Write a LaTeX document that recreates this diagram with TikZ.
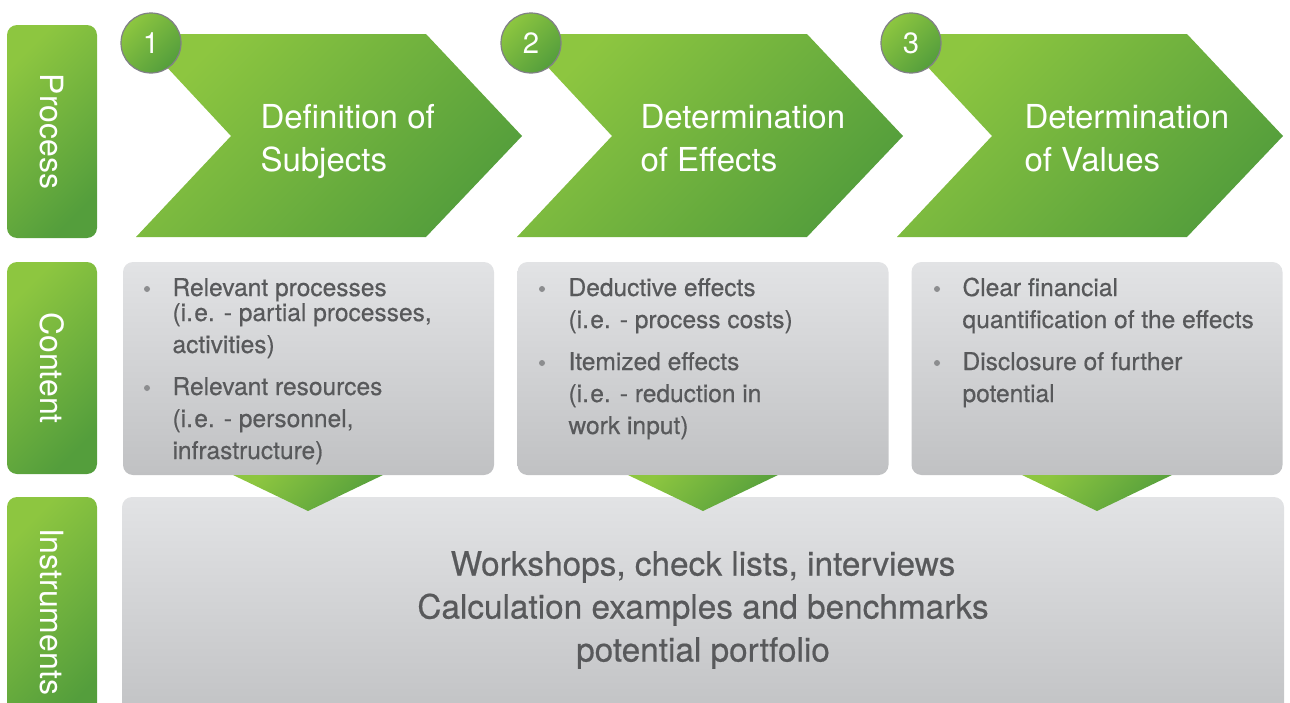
\documentclass[tikz,border=0pt]{standalone}
\usepackage{fontspec}
\usepackage{graphicx}
\setmainfont{TeX Gyre Heros}
\newfontfamily\grayfont[FakeBold=0.5]{TeX Gyre Heros}

\definecolor{greenL}{RGB}{141,198,64}
\definecolor{greenD}{RGB}{84,158,60}
\definecolor{grayT}{RGB}{226,227,229}
\definecolor{grayB}{RGB}{192,193,195}
\definecolor{textgray}{RGB}{88,89,91}
\definecolor{dotgray}{RGB}{140,141,143}
\definecolor{ringgray}{RGB}{128,128,134}

\tikzset{every picture/.style={line width=0.8pt}}
\tikzset{
  greenshade/.style={top color=greenL, bottom color=greenD, shading angle=45},
  grayshade/.style={top color=grayT, bottom color=grayB},
  sidebox/.style={greenshade, rounded corners=7.5pt, minimum width=67.5pt, inner sep=0pt, text=white, font=\fontsize{24}{28}\selectfont},
  graybox/.style={grayshade, rounded corners=7.5pt, inner sep=0pt},
  numdot/.style={circle, greenshade, draw=ringgray, line width=0.9pt, minimum size=45pt, inner sep=0pt, text=white, font=\fontsize{22}{24}\selectfont},
  steptitle/.style={anchor=base west, align=left, text=white, inner sep=0pt, font=\fontsize{24.75}{32.25}\selectfont},
  itemtext/.style={anchor=base west, align=left, text=textgray, inner sep=0pt, font=\grayfont\fontsize{18.4}{24}\selectfont},
  itemdot/.style={circle, fill=dotgray, inner sep=0pt, minimum size=4.5pt},
}

\begin{document}
\begin{tikzpicture}[x=0.75pt,y=0.75pt,yscale=-1, xscale=1]
\useasboundingbox (0,0) rectangle (1290,703);
\clip (0,0) rectangle (1290,703);

%Shape: Side labels
\node[sidebox, minimum height=159.75pt] (process) at (52,131.5) {\rotatebox{-90}{Process}};
\node[sidebox, minimum height=159pt] (content) at (52,368) {\rotatebox{-90}{Content}};
\node[sidebox, minimum height=171.75pt] (instruments) at (52,611.5) {\rotatebox{-90}{Instruments}};

%Shape: Chevron 1
\shade[greenshade] (136,34) -- (426,34) -- (522,136) -- (426,237) -- (136,237) -- (231,136) -- cycle ;
%Shape: Chevron 2
\shade[greenshade] (517,34) -- (807,34) -- (903,136) -- (807,237) -- (517,237) -- (612,136) -- cycle ;
%Shape: Chevron 3
\shade[greenshade] (897,34) -- (1187,34) -- (1283,136) -- (1187,237) -- (897,237) -- (992,136) -- cycle ;

%Shape: Step numbers
\node[numdot] (num1) at (151,43) {1};
\node[numdot] (num2) at (531,43) {2};
\node[numdot] (num3) at (911,43) {3};

% Text Node (base = last line)
\node[steptitle] (title1) at (260,171) {Definition of\\Subjects};
% Text Node
\node[steptitle] (title2) at (640,171) {Determination\\of Effects};
% Text Node
\node[steptitle] (title3) at (1024,171) {Determination\\of Values};

%Shape: Content boxes
\node[graybox, minimum width=278.25pt, minimum height=159.75pt] (box1) at (308.5,368.5) {};
\node[graybox, minimum width=278.25pt, minimum height=159.75pt] (box2) at (703,368.5) {};
\node[graybox, minimum width=278.25pt, minimum height=159.75pt] (box3) at (1097,368.5) {};

%Shape: Instruments box
\node[graybox, minimum width=871.5pt, minimum height=171.75pt] (instr) at (703,611.5) {};

%Shape: Triangles
\shade[greenshade] (233,475) -- (383,475) -- (308,511) -- cycle ;
\shade[greenshade] (628,475) -- (778,475) -- (703,511) -- cycle ;
\shade[greenshade] (1022,475) -- (1172,475) -- (1097,511) -- cycle ;

% Text Node
\node[itemdot] (dot1a) at (147,289) {};
\node[itemtext] (item1a) at (172,353) {Relevant processes\\[-5.25pt](i.\kern1pt e. - partial processes,\\activities)};
\node[itemdot] (dot1b) at (147,388) {};
\node[itemtext] (item1b) at (172,459) {Relevant resources\\(i.\kern1pt e. - personnel,\\infrastructure)};
% Text Node
\node[itemdot] (dot2a) at (542,289) {};
\node[itemtext] (item2a) at (568,328) {Deductive effects\\(i.\kern1pt e. - process costs)};
\node[itemdot] (dot2b) at (542,363) {};
\node[itemtext] (item2b) at (568,434) {Itemized effects\\(i.\kern1pt e. - reduction in\\work input)};
% Text Node
\node[itemdot] (dot3a) at (937,289) {};
\node[itemtext] (item3a) at (962,328) {Clear financial\\quantification of the effects};
\node[itemdot] (dot3b) at (937,363) {};
\node[itemtext] (item3b) at (962,402) {Disclosure of further\\potential};

% Text Node
\node[align=center, text=textgray, inner sep=0pt, font=\grayfont\fontsize{25}{32.25}\selectfont] (instrtext) at (703,610) {Workshops, check lists, interviews\\Calculation examples and benchmarks\\potential portfolio};
\end{tikzpicture}
\end{document}
